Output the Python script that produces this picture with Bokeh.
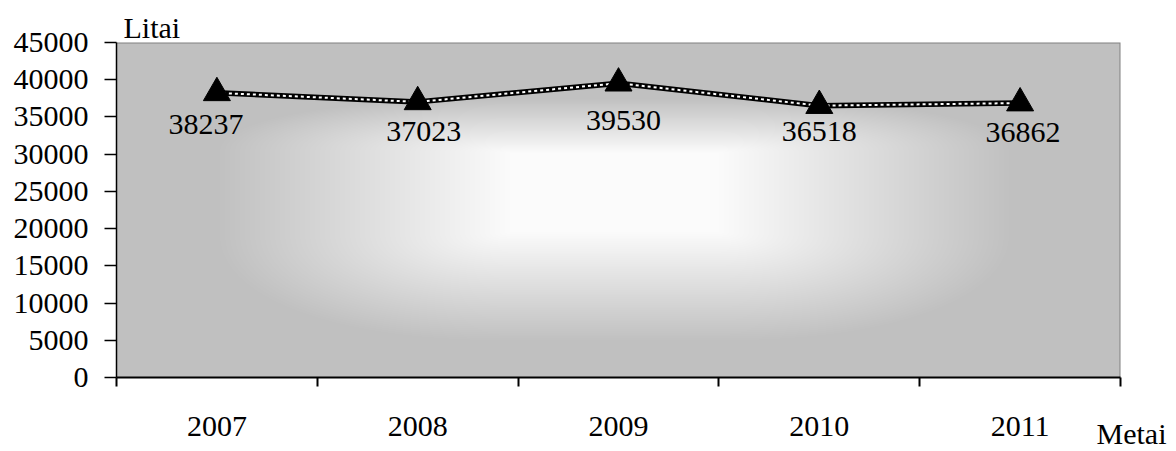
import numpy as np
from bokeh.plotting import figure
from bokeh.models import Range1d, FixedTicker, Label, ColumnDataSource, NumeralTickFormatter
from bokeh.core.properties import value
from bokeh.embed import file_html
from bokeh.resources import INLINE

# ---- data ----
years = ["2007", "2008", "2009", "2010", "2011"]
values = [38237, 37023, 39530, 36518, 36862]
y_ticks = list(range(0, 45001, 5000))
x_title = "Metai"
y_title = "Litai"

# ---- label nudges (style, screen px) ----
label_dx = [-11, 6, 5, 0, 3]
label_dy = [32, 30, 37, 26, 29]

FONT = "Liberation Serif"
FS = "30px"

W, H = 1176, 451
BL, BR, BT, BB = 116, 56, 42, 74          # plot area inset inside the canvas
FW, FH = W - BL - BR, H - BT - BB          # plot area size in px
YMAX = 45000

n = len(years)
xs = list(range(n))
ppx = n / FW
ppy = YMAX / FH

p = figure(width=W, height=H, output_backend="svg", toolbar_location=None,
           x_range=Range1d(-0.5 - BL * ppx, n - 0.5 + BR * ppx),
           y_range=Range1d(-BB * ppy, YMAX + BT * ppy),
           min_border_left=0, min_border_right=0, min_border_top=0, min_border_bottom=0,
           background_fill_color="white", border_fill_color="white")
p.grid.visible = False
p.outline_line_color = None

# ---- background: centre-out grey gradient (plot area only) ----
px = np.arange(FW) + 0.5
py = np.arange(FH) + 0.5
X, Y = np.meshgrid(px, py)
cx, cy = FW / 2.0 - 4, 152.0
dx = np.abs(X - cx)
sx = np.clip((dx - 105) / (400 - 105), 0, 1)
dyv = Y - cy
sy = np.where(dyv < 0, np.clip((-dyv - 42) / 55.0, 0, 1), np.clip((dyv - 38) / 110.0, 0, 1))
s = np.clip((sx ** 2.2 + sy ** 2.2) ** (1 / 2.2), 0, 1)
g = (251 - 59 * s).astype(np.uint8)
g[0, :] = 128
g[:, -1] = 128
img = np.empty((FH, FW), dtype=np.uint32)
view = img.view(dtype=np.uint8).reshape((FH, FW, 4))
view[..., 0] = g
view[..., 1] = g
view[..., 2] = g
view[..., 3] = 255
img = np.ascontiguousarray(np.flipud(img))
p.image_rgba(image=[img], x=-0.5, y=0, dw=n, dh=YMAX)

# ---- series ----
src = ColumnDataSource(dict(x=xs, y=values, lab=[str(v) for v in values],
                            dx=label_dx, dy=label_dy))
p.line("x", "y", source=src, line_color="black", line_width=5.5)
p.line("x", "y", source=src, line_color="white", line_width=2, line_dash="3 3")
p.scatter("x", "y", source=src, marker="triangle", size=27,
          fill_color="black", line_color="black")
p.text("x", "y", text="lab", source=src, x_offset="dx", y_offset="dy",
       text_align="center", text_baseline="middle",
       text_font=value(FONT), text_font_size=FS, text_color="black")

# ---- axes (drawn at fixed data locations inside the canvas) ----
xa = p.xaxis[0]
xa.fixed_location = 0
xa.bounds = (-0.5, n - 0.5)
xa.ticker = FixedTicker(ticks=xs, minor_ticks=[i - 0.5 for i in range(n + 1)])
xa.major_label_overrides = {i: y for i, y in zip(xs, years)}
xa.major_tick_out = 0
xa.major_tick_in = 0
xa.minor_tick_out = 9
xa.minor_tick_in = 0
xa.minor_tick_line_color = "black"
xa.minor_tick_line_width = 2
xa.axis_line_color = "black"
xa.axis_line_width = 2
xa.major_label_standoff = 30
xa.major_label_text_font = FONT
xa.major_label_text_font_size = FS
xa.major_label_text_color = "black"

ya = p.yaxis[0]
ya.fixed_location = -0.5
ya.bounds = (0, YMAX)
ya.ticker = FixedTicker(ticks=y_ticks)
ya.formatter = NumeralTickFormatter(format="0")
ya.major_tick_out = 12
ya.major_tick_in = 0
ya.minor_tick_out = 0
ya.minor_tick_in = 0
ya.major_tick_line_color = "black"
ya.major_tick_line_width = 1.5
ya.axis_line_color = "black"
ya.axis_line_width = 1.5
ya.major_label_standoff = 16
ya.major_label_text_font = FONT
ya.major_label_text_font_size = FS
ya.major_label_text_color = "black"

# ---- titles ----
p.add_layout(Label(x=-0.5 + 7 * ppx, y=YMAX + 15 * ppy, text=y_title,
                   text_font=FONT, text_font_size=FS, text_color="black",
                   text_baseline="middle", text_align="left"))
p.add_layout(Label(x=-0.5 + 980 * ppx, y=-56 * ppy, text=x_title,
                   text_font=FONT, text_font_size=FS, text_color="black",
                   text_baseline="middle", text_align="left"))

open("out.html", "w").write(file_html(p, INLINE))
